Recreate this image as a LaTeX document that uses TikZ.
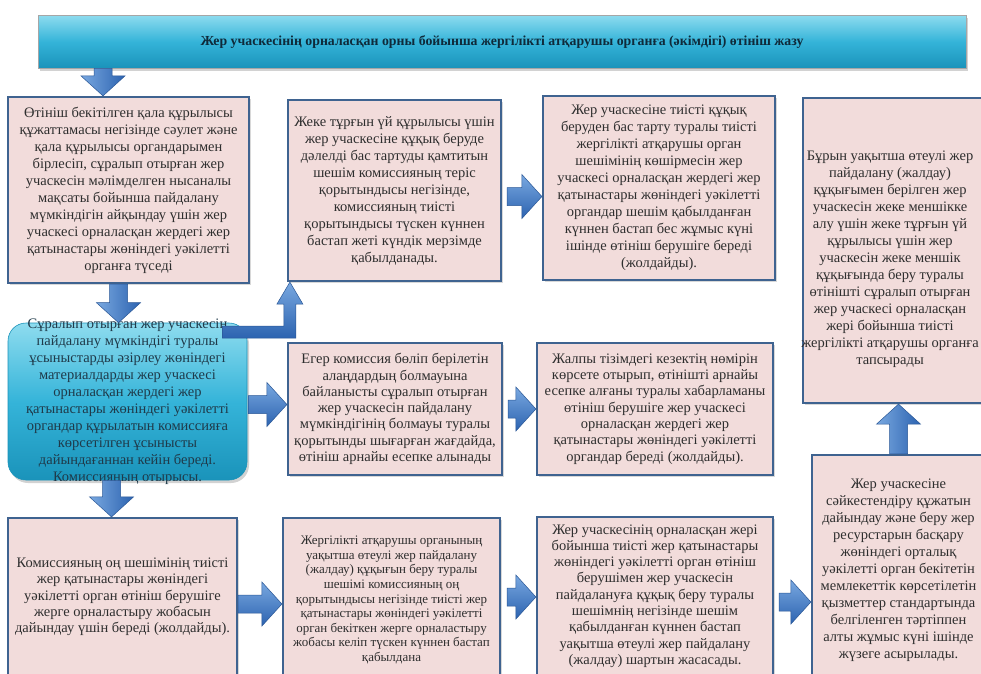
\documentclass[tikz,border=0pt]{standalone}
\usepackage{fontspec}
\setmainfont{Liberation Serif}
\usetikzlibrary{calc,shadows,shadings}
\definecolor{boxfill}{HTML}{F2DCDB}
\definecolor{boxline}{HTML}{3F6390}
\definecolor{txtc}{HTML}{2E2E2E}
\definecolor{arrtop}{HTML}{79A8E0}
\definecolor{arrbot}{HTML}{2C63B0}
\definecolor{arredge}{HTML}{2A5796}
\definecolor{cyantop}{HTML}{8EDCEF}
\definecolor{cyanmid}{HTML}{35B4D9}
\definecolor{cyanbot}{HTML}{1A93BA}
\definecolor{etxt}{HTML}{1F3A4A}
\definecolor{bantc}{HTML}{0F2A3A}
\def\sw{9pt}\def\hw{22pt}\def\hl{20pt}
\newcommand\HArrow[2]{%
  \path[harr] let \p1=#1, \p2=#2 in
    (\x1,\y1+\sw) -- (\x2-\hl,\y1+\sw) -- (\x2-\hl,\y1+\hw) -- (\x2,\y1)
    -- (\x2-\hl,\y1-\hw) -- (\x2-\hl,\y1-\sw) -- (\x1,\y1-\sw) -- cycle;}
\newcommand\VArrow[2]{%
  \path[varr] let \p1=#1, \p2=#2, \n1={sign(\y2-\y1)} in
    (\x1-\sw,\y1) -- (\x1-\sw,{\y2-\n1*\hl}) -- (\x1-\hw,{\y2-\n1*\hl}) -- (\x1,\y2)
    -- (\x1+\hw,{\y2-\n1*\hl}) -- (\x1+\sw,{\y2-\n1*\hl}) -- (\x1+\sw,\y1) -- cycle;}
\tikzset{
  pinkbox/.style={draw=boxline, line width=2.2pt, fill=boxfill, inner sep=0pt,
    drop shadow={opacity=0.3, shadow xshift=2pt, shadow yshift=-2pt}},
  txt/.style={align=center, text=txtc, inner sep=0pt, font=\fontsize{14.5}{17}\selectfont},
  txtsm/.style={txt, font=\fontsize{14.5}{16.3}\selectfont},
  txtxs/.style={txt, font=\fontsize{13}{14.6}\selectfont},
  banner/.style={draw=gray!70, line width=0.6pt, top color=cyantop, bottom color=cyanbot,
    middle color=cyanmid, inner sep=0pt,
    drop shadow={opacity=0.35, shadow xshift=2pt, shadow yshift=-3pt}},
  ebox/.style={draw=cyanbot, line width=0.6pt, rounded corners=18pt, top color=cyantop,
    bottom color=cyanbot, middle color=cyanmid, inner sep=0pt,
    drop shadow={opacity=0.35, shadow xshift=2pt, shadow yshift=-3pt}},
  bantxt/.style={align=center, text=bantc, inner sep=0pt, font=\bfseries\fontsize{13.8}{16}\selectfont},
  etext/.style={txt, text=etxt},
  harr/.style={top color=arrtop, bottom color=arrbot, draw=arredge, line width=0.5pt},
  varr/.style={left color=arrtop, right color=arrbot, draw=arredge, line width=0.5pt},
}
\begin{document}
\begin{tikzpicture}[x=1pt,y=-1pt]
\useasboundingbox (0,0) rectangle (981,673);
\clip (0,0) rectangle (981,673);
\fill[white] (0,0) rectangle (981,673);

% banner
\node[banner, minimum width=928pt, minimum height=53pt] (N) at (502,41.5) {};
\node[bantxt] (Nt) at (502,42) {Жер учаскесінің орналасқан орны бойынша жергілікті атқарушы органға (әкімдігі) өтініш жазу};

% row 1
\node[pinkbox, minimum width=241pt, minimum height=186pt] (A) at (128.5,190) {};
\node[txt] (At) at (A) {Өтініш бекітілген қала құрылысы\\құжаттамасы негізінде сәулет және\\қала құрылысы органдарымен\\бірлесіп, сұралып отырған жер\\учаскесін мәлімделген нысаналы\\мақсаты бойынша пайдалану\\мүмкіндігін айқындау үшін жер\\учаскесі орналасқан жердегі жер\\қатынастары жөніндегі уәкілетті\\органға түседі};

\node[pinkbox, minimum width=213pt, minimum height=181pt] (B) at (394.5,190.5) {};
\node[txt] (Bt) at (B) {Жеке тұрғын үй құрылысы үшін\\жер учаскесіне құқық беруде\\дәлелді бас тартуды қамтитын\\шешім комиссияның теріс\\қорытындысы негізінде,\\комиссияның тиісті\\қорытындысы түскен күннен\\бастап жеті күндік мерзімде\\қабылданады.};

\node[pinkbox, minimum width=232pt, minimum height=184pt] (C) at (659,188) {};
\node[txt] (Ct) at (C) {Жер учаскесіне тиісті құқық\\беруден бас тарту туралы тиісті\\жергілікті атқарушы орган\\шешімінің көшірмесін жер\\учаскесі орналасқан жердегі жер\\қатынастары жөніндегі уәкілетті\\органдар шешім қабылданған\\күннен бастап бес жұмыс күні\\ішінде өтініш берушіге береді\\(жолдайды).};

\node[pinkbox, minimum width=182pt, minimum height=305pt] (D) at (894,250.5) {};
\node[txt] (Dt) at (890,259) {Бұрын уақытша өтеулі жер\\пайдалану (жалдау)\\құқығымен берілген жер\\учаскесін жеке меншікке\\алу үшін жеке тұрғын үй\\құрылысы үшін жер\\учаскесін жеке меншік\\құқығында беру туралы\\өтінішті сұралып отырған\\жер учаскесі орналасқан\\жері бойынша тиісті\\жергілікті атқарушы органға\\тапсырады};

% row 2
\node[ebox, minimum width=239pt, minimum height=157pt] (E) at (127.5,401.5) {};
\node[etext] (Et) at (E) {Сұралып отырған жер учаскесін\\пайдалану мүмкіндігі туралы\\ұсыныстарды әзірлеу жөніндегі\\материалдарды жер учаскесі\\орналасқан жердегі жер\\қатынастары жөніндегі уәкілетті\\органдар құрылатын комиссияға\\көрсетілген ұсынысты\\дайындағаннан кейін береді.\\Комиссияның отырысы.};

\node[pinkbox, minimum width=214pt, minimum height=132pt] (F) at (395,409) {};
\node[txtsm] (Ft) at (F) {Егер комиссия бөліп берілетін\\алаңдардың болмауына\\байланысты сұралып отырған\\жер учаскесін пайдалану\\мүмкіндігінің болмауы туралы\\қорытынды шығарған жағдайда,\\өтініш арнайы есепке алынады};

\node[pinkbox, minimum width=236pt, minimum height=132pt] (G) at (655,409) {};
\node[txtsm] (Gt) at (G) {Жалпы тізімдегі кезектің нөмірін\\көрсете отырып, өтінішті арнайы\\есепке алғаны туралы хабарламаны\\өтініш берушіге жер учаскесі\\орналасқан жердегі жер\\қатынастары жөніндегі уәкілетті\\органдар береді (жолдайды).};

\node[pinkbox, minimum width=173pt, minimum height=230pt] (H) at (898.5,570) {};
\node[txt] (Ht) at (H) {Жер учаскесіне\\сәйкестендіру құжатын\\дайындау және беру жер\\ресурстарын басқару\\жөніндегі орталық\\уәкілетті орган бекітетін\\мемлекеттік көрсетілетін\\қызметтер стандартында\\белгіленген тәртіппен\\алты жұмыс күні ішінде\\жүзеге асырылады.};

% row 3
\node[pinkbox, minimum width=229pt, minimum height=158pt] (I) at (122.5,597) {};
\node[txtsm] (It) at (I) {Комиссияның оң шешімінің тиісті\\жер қатынастары жөніндегі\\уәкілетті орган өтініш берушіге\\жерге орналастыру жобасын\\дайындау үшін береді (жолдайды).};

\node[pinkbox, minimum width=217pt, minimum height=164pt] (J) at (391.5,600) {};
\node[txtxs] (Jt) at (J) {Жергілікті атқарушы органының\\уақытша өтеулі жер пайдалану\\(жалдау) құқығын беру туралы\\шешімі комиссияның оң\\қорытындысы негізінде тиісті жер\\қатынастары жөніндегі уәкілетті\\орган бекіткен жерге орналастыру\\жобасы келіп түскен күннен бастап\\қабылдана};

\node[pinkbox, minimum width=236pt, minimum height=158pt] (K) at (655,596) {};
\node[txtsm] (Kt) at (K) {Жер учаскесінің орналасқан жері\\бойынша тиісті жер қатынастары\\жөніндегі уәкілетті орган өтініш\\берушімен жер учаскесін\\пайдалануға құқық беру туралы\\шешімнің негізінде шешім\\қабылданған күннен бастап\\уақытша өтеулі жер пайдалану\\(жалдау) шартын жасасады.};

% arrows
\VArrow{($(N.south)+(-399,0)$)}{(A.north)}
\VArrow{($(A.south)+(-10,0)$)}{(E.north)}
\VArrow{($(E.south)+(-16,0)$)}{(I.north)}
\VArrow{(H.north)}{(D.south)}
\HArrow{($(B.east)+(5,6)$)}{(C.west)}
\HArrow{($(E.east)+(1,3)$)}{(F.west)}
\HArrow{($(F.east)+(5,0)$)}{(G.west)}
\HArrow{($(I.east)+(0,7)$)}{(J.west)}
\HArrow{($(J.east)+(6,-3)$)}{(K.west)}
\HArrow{($(K.east)+(5,6)$)}{(H.west)}

% bent arrow from E up to B
\coordinate (S) at ($(E.north east)+(-25,9.5)$);
\coordinate (T) at ($(B.south west)+(3,0)$);
\path[harr] let \p1=(S), \p2=(T) in
  (\x1,\y1+6pt) -- (\x2-6pt,\y1+6pt) -- (\x2-6pt,\y2-22pt) -- (\x2-13pt,\y2-22pt) -- (\x2,\y2)
  -- (\x2+13pt,\y2-22pt) -- (\x2+6pt,\y2-22pt) -- (\x2+6pt,\y1-6pt) -- (\x1,\y1-6pt) -- cycle;
\end{tikzpicture}
\end{document}
